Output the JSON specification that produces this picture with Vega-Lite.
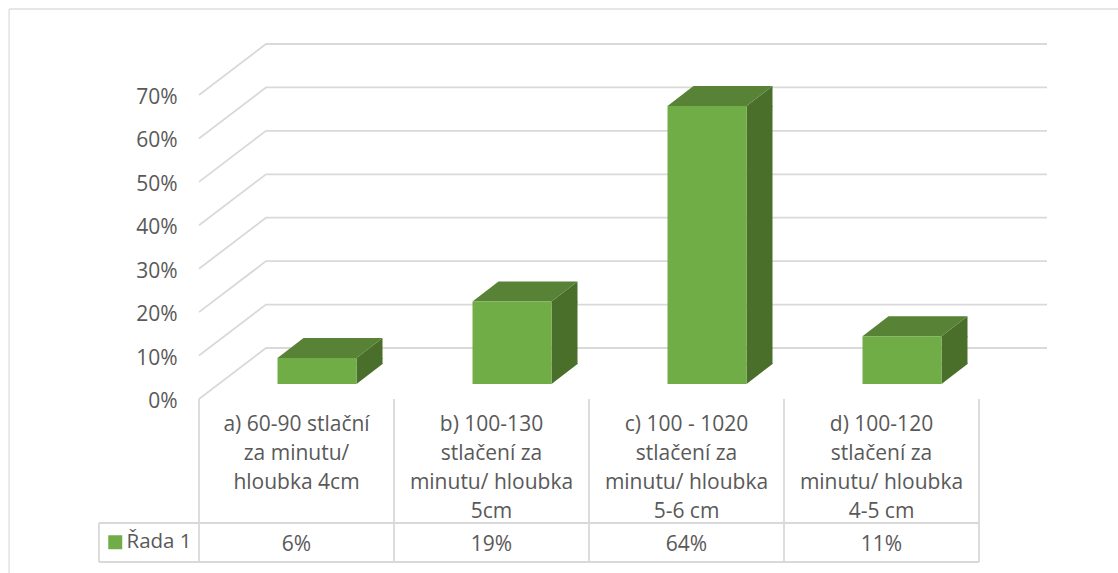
{
  "$schema": "https://vega.github.io/schema/vega-lite/v6.json",
  "width": 780,
  "height": 304,
  "autosize": {"type": "none"},
  "padding": {"left": 199, "top": 95, "right": 139, "bottom": 174},
  "background": "#ffffff",
  "view": {"stroke": null},
  "config": {
    "font": "Open Sans",
    "axis": {"labelFont": "Open Sans"},
    "legend": {"labelFont": "Open Sans"}
  },
  "datasets": {
    "bars": [
      {"category": "a) 60-90 stlační|za minutu/|hloubka 4cm", "value": 0.06},
      {"category": "b) 100-130|stlačení za|minutu/ hloubka|5cm", "value": 0.19},
      {"category": "c) 100 - 1020|stlačení za|minutu/ hloubka|5-6 cm", "value": 0.64},
      {"category": "d) 100-120|stlačení za|minutu/ hloubka|4-5 cm", "value": 0.11}
    ],
    "ticks": [
      {"tick": 0}, {"tick": 0.1}, {"tick": 0.2}, {"tick": 0.3},
      {"tick": 0.4}, {"tick": 0.5}, {"tick": 0.6}, {"tick": 0.7}
    ],
    "columns": [
      {"edge": 0}, {"edge": 1}, {"edge": 2}, {"edge": 3}, {"edge": 4}
    ]
  },
  "resolve": {"scale": {"x": "independent"}, "axis": {"y": "independent"}},
  "layer": [
    {
      "description": "Outer frame of the chart area: left edge",
      "data": {"values": [{}]},
      "mark": {"type": "rule", "color": "#dedede", "strokeWidth": 1.3},
      "encoding": {
        "x": {"datum": -0.974, "type": "quantitative", "scale": {"domain": [0, 4]}, "axis": null},
        "y": {"datum": 0.898, "type": "quantitative", "scale": {"domain": [0, 0.7], "nice": false}, "axis": null},
        "y2": {"datum": -0.4006}
      }
    },
    {
      "description": "Outer frame of the chart area: top edge",
      "data": {"values": [{}]},
      "mark": {"type": "rule", "color": "#dedede", "strokeWidth": 1.3},
      "encoding": {
        "x": {"datum": -0.974, "type": "quantitative", "scale": {"domain": [0, 4]}, "axis": null},
        "x2": {"datum": 4.815},
        "y": {"datum": 0.898, "type": "quantitative", "scale": {"domain": [0, 0.7], "nice": false}, "axis": null}
      }
    },
    {
      "description": "Gridlines: slanted up the side wall, then along the back wall",
      "data": {"name": "ticks"},
      "mark": {
        "type": "point",
        "shape": "M0 0L67 -51L848 -51",
        "size": 4,
        "filled": false,
        "fill": null,
        "stroke": "#d9d9d9",
        "strokeWidth": 1.8,
        "opacity": 1
      },
      "encoding": {
        "x": {"datum": 0, "type": "quantitative", "scale": {"domain": [0, 4]}, "axis": null},
        "y": {
          "field": "tick",
          "type": "quantitative",
          "scale": {"domain": [0, 0.7], "nice": false},
          "axis": {
            "values": [0, 0.1, 0.2, 0.3, 0.4, 0.5, 0.6, 0.7],
            "format": ".0%",
            "title": null,
            "domain": false,
            "ticks": false,
            "grid": false,
            "labelFontSize": 21,
            "labelColor": "#595959",
            "labelPadding": 22,
            "labelOffset": 2.5
          }
        }
      }
    },
    {
      "description": "Data table column edges",
      "data": {"name": "columns"},
      "mark": {"type": "rule", "color": "#d9d9d9", "strokeWidth": 1.8},
      "encoding": {
        "x": {"field": "edge", "type": "quantitative", "scale": {"domain": [0, 4]}, "axis": null},
        "y": {"datum": 0, "type": "quantitative", "scale": {"domain": [0, 0.7], "nice": false}, "axis": null},
        "y2": {"datum": -0.3753}
      }
    },
    {
      "description": "Data table top edge",
      "data": {"values": [{}]},
      "mark": {"type": "rule", "color": "#d9d9d9", "strokeWidth": 1.8},
      "encoding": {
        "x": {"datum": -0.513, "type": "quantitative", "scale": {"domain": [0, 4]}, "axis": null},
        "x2": {"datum": 4},
        "y": {"datum": -0.2855, "type": "quantitative", "scale": {"domain": [0, 0.7], "nice": false}, "axis": null}
      }
    },
    {
      "description": "Data table bottom edge",
      "data": {"values": [{}]},
      "mark": {"type": "rule", "color": "#d9d9d9", "strokeWidth": 1.8},
      "encoding": {
        "x": {"datum": -0.513, "type": "quantitative", "scale": {"domain": [0, 4]}, "axis": null},
        "x2": {"datum": 4},
        "y": {"datum": -0.3753, "type": "quantitative", "scale": {"domain": [0, 0.7], "nice": false}, "axis": null}
      }
    },
    {
      "description": "Data table left edge",
      "data": {"values": [{}]},
      "mark": {"type": "rule", "color": "#d9d9d9", "strokeWidth": 1.8},
      "encoding": {
        "x": {"datum": -0.513, "type": "quantitative", "scale": {"domain": [0, 4]}, "axis": null},
        "y": {"datum": -0.2855, "type": "quantitative", "scale": {"domain": [0, 0.7], "nice": false}, "axis": null},
        "y2": {"datum": -0.3753}
      }
    },
    {
      "description": "Bar side face: middle section",
      "data": {"name": "bars"},
      "mark": {"type": "bar", "color": "#4a6f2a", "width": 26, "xOffset": 73, "yOffset": -15, "y2Offset": -15},
      "encoding": {
        "x": {
          "field": "category",
          "type": "nominal",
          "sort": null,
          "scale": {"type": "band", "paddingInner": 0.595, "paddingOuter": 0.2975},
          "axis": null
        },
        "y": {"field": "value", "type": "quantitative", "scale": {"domain": [0, 0.7], "nice": false}, "axis": null},
        "y2": {"datum": 0.046}
      }
    },
    {
      "description": "Bar side face: slanted top end",
      "data": {"name": "bars"},
      "mark": {
        "type": "point",
        "shape": "M39.5 0L65.5 -20L65.5 1L39.5 1Z",
        "size": 4,
        "filled": true,
        "color": "#4a6f2a",
        "opacity": 1,
        "xOffset": 20.5,
        "yOffset": -15
      },
      "encoding": {
        "x": {
          "field": "category",
          "type": "nominal",
          "sort": null,
          "scale": {"type": "band", "paddingInner": 0.595, "paddingOuter": 0.2975},
          "axis": null
        },
        "y": {"field": "value", "type": "quantitative", "scale": {"domain": [0, 0.7], "nice": false}, "axis": null}
      }
    },
    {
      "description": "Bar side face: slanted bottom end",
      "data": {"name": "bars"},
      "mark": {
        "type": "point",
        "shape": "M39.5 0L65.5 -20L65.5 -21L39.5 -21Z",
        "size": 4,
        "filled": true,
        "color": "#4a6f2a",
        "opacity": 1,
        "xOffset": 20.5,
        "yOffset": -15
      },
      "encoding": {
        "x": {
          "field": "category",
          "type": "nominal",
          "sort": null,
          "scale": {"type": "band", "paddingInner": 0.595, "paddingOuter": 0.2975},
          "axis": null
        },
        "y": {"datum": 0, "type": "quantitative", "scale": {"domain": [0, 0.7], "nice": false}, "axis": null}
      }
    },
    {
      "description": "Bar top face",
      "data": {"name": "bars"},
      "mark": {
        "type": "point",
        "shape": "M-39.5 0L39.5 0L65.5 -20L-13.5 -20Z",
        "size": 4,
        "filled": true,
        "color": "#588235",
        "opacity": 1,
        "xOffset": 20.5,
        "yOffset": -15
      },
      "encoding": {
        "x": {
          "field": "category",
          "type": "nominal",
          "sort": null,
          "scale": {"type": "band", "paddingInner": 0.595, "paddingOuter": 0.2975},
          "axis": null
        },
        "y": {"field": "value", "type": "quantitative", "scale": {"domain": [0, 0.7], "nice": false}, "axis": null}
      }
    },
    {
      "description": "Bar front face, with the category labels and series legend",
      "data": {"name": "bars"},
      "mark": {"type": "bar", "xOffset": 20.5, "yOffset": -15, "y2Offset": -15},
      "encoding": {
        "x": {
          "field": "category",
          "type": "nominal",
          "sort": null,
          "scale": {"type": "band", "paddingInner": 0.595, "paddingOuter": 0.2975},
          "axis": {
            "orient": "bottom",
            "title": null,
            "domain": false,
            "ticks": false,
            "labelAngle": 0,
            "labelFontSize": 21,
            "labelColor": "#595959",
            "labelLineHeight": 29,
            "labelPadding": 14,
            "labelBaseline": "top",
            "labelLimit": 0,
            "labelExpr": "split(datum.label, '|')"
          }
        },
        "y": {"field": "value", "type": "quantitative", "scale": {"domain": [0, 0.7], "nice": false}, "axis": null},
        "y2": {"datum": 0},
        "color": {
          "datum": "Řada 1",
          "scale": {"range": ["#70ad47"]},
          "legend": {
            "title": null,
            "orient": "none",
            "legendX": -94,
            "legendY": 437,
            "symbolType": "square",
            "symbolSize": 196,
            "labelFontSize": 20.5,
            "labelColor": "#595959",
            "labelOffset": 1,
            "padding": 0
          }
        }
      }
    },
    {
      "description": "Data table values",
      "data": {"name": "bars"},
      "mark": {"type": "text", "fontSize": 21, "color": "#595959", "baseline": "middle", "align": "center", "font": "Open Sans"},
      "encoding": {
        "x": {
          "field": "category",
          "type": "nominal",
          "sort": null,
          "scale": {"type": "band", "paddingInner": 0.595, "paddingOuter": 0.2975},
          "axis": null
        },
        "y": {"datum": -0.3362, "type": "quantitative", "scale": {"domain": [0, 0.7], "nice": false}, "axis": null},
        "text": {"field": "value", "type": "quantitative", "format": ".0%"}
      }
    }
  ]
}
